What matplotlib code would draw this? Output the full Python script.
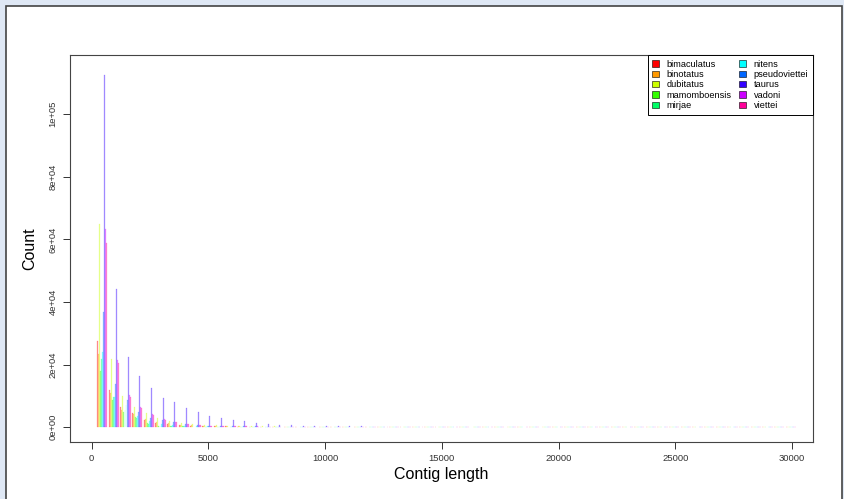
import numpy as np
import matplotlib.pyplot as plt
from matplotlib.patches import Patch, Rectangle

plt.rcParams['font.family'] = ['Liberation Sans', 'DejaVu Sans']

# contig length histogram, bins of 500 bp
bin_width = 500
n_bins = 60

species = ['bimaculatus', 'binotatus', 'dubitatus', 'mamomboensis', 'mirjae',
           'nitens', 'pseudoviettei', 'taurus', 'vadoni', 'viettei']
colors = ['#FF0000', '#FF9900', '#CCFF00', '#33FF00', '#00FF66',
          '#00FFFF', '#0066FF', '#3300FF', '#CC00FF', '#FF0099']

bimaculatus = [27600, 11800, 6400, 4500, 2400, 1400, 1000, 600, 450, 350, 280, 220, 180, 150, 120,
               100, 90, 80, 70, 60, 55, 50, 45, 40, 35, 30, 28, 25, 22, 20,
               18, 16, 15, 14, 12, 11, 10, 9, 8, 8, 7, 7, 6, 6, 5,
               5, 5, 4, 4, 4, 3, 3, 3, 3, 2, 2, 2, 2, 2, 2]
binotatus = [23300, 10800, 5400, 4200, 2600, 1600, 1300, 800, 600, 450, 350, 280, 220, 180, 150,
             120, 100, 90, 80, 70, 60, 55, 50, 45, 40, 35, 30, 28, 25, 22,
             20, 18, 16, 15, 14, 12, 11, 10, 9, 8, 8, 7, 7, 6, 6,
             5, 5, 5, 4, 4, 4, 3, 3, 3, 3, 2, 2, 2, 2, 2]
dubitatus = [64900, 21700, 9900, 6400, 4500, 3000, 2000, 1300, 900, 700, 550, 450, 380, 320, 260,
             220, 190, 160, 140, 120, 100, 90, 80, 70, 60, 55, 50, 45, 40, 35,
             30, 28, 25, 22, 20, 18, 16, 15, 14, 12, 11, 10, 9, 8, 8,
             7, 7, 6, 6, 5, 5, 5, 4, 4, 4, 3, 3, 3, 3, 2]
mamomboensis = [17900, 8600, 4800, 3200, 1300, 500, 300, 200, 150, 120, 100, 80, 65, 55, 45,
                40, 35, 30, 26, 22, 20, 18, 16, 14, 12, 11, 10, 9, 8, 7,
                7, 6, 6, 5, 5, 4, 4, 4, 3, 3, 3, 3, 2, 2, 2,
                2, 2, 2, 1, 1, 1, 1, 1, 1, 1, 1, 1, 1, 1, 1]
mirjae = [21700, 9600, 5400, 2900, 1000, 500, 300, 200, 150, 120, 100, 80, 65, 55, 45,
          40, 35, 30, 26, 22, 20, 18, 16, 14, 12, 11, 10, 9, 8, 7,
          7, 6, 6, 5, 5, 4, 4, 4, 3, 3, 3, 3, 2, 2, 2,
          2, 2, 2, 1, 1, 1, 1, 1, 1, 1, 1, 1, 1, 1, 1]
nitens = [24000, 9600, 7000, 3500, 1900, 1000, 600, 400, 300, 220, 180, 140, 110, 90, 75,
          65, 55, 48, 42, 36, 32, 28, 25, 22, 20, 18, 16, 14, 12, 11,
          10, 9, 8, 7, 7, 6, 6, 5, 5, 4, 4, 4, 3, 3, 3,
          3, 2, 2, 2, 2, 2, 2, 1, 1, 1, 1, 1, 1, 1, 1]
pseudoviettei = [36700, 13700, 8600, 4800, 2900, 2200, 1500, 1000, 700, 500, 400, 320, 260, 210, 170,
                 140, 120, 100, 85, 75, 65, 58, 50, 45, 40, 35, 32, 28, 25, 22,
                 20, 18, 16, 15, 14, 12, 11, 10, 9, 8, 8, 7, 7, 6, 6,
                 5, 5, 5, 4, 4, 4, 3, 3, 3, 3, 2, 2, 2, 2, 2]
taurus = [112400, 44100, 22400, 16300, 12500, 9400, 7900, 6100, 4800, 3500, 2900, 2200, 1900, 1400, 1000,
          700, 550, 450, 380, 320, 280, 240, 200, 170, 150, 130, 110, 100, 90, 80,
          70, 60, 55, 50, 45, 40, 35, 30, 30, 25, 25, 20, 20, 18, 16,
          15, 14, 12, 11, 10, 10, 9, 8, 8, 7, 6, 6, 5, 5, 4]
vadoni = [63200, 21400, 10200, 6400, 4200, 2500, 1600, 1100, 700, 500, 400, 320, 260, 210, 170,
          140, 120, 100, 85, 75, 65, 58, 50, 45, 40, 35, 32, 28, 25, 22,
          20, 18, 16, 15, 14, 12, 11, 10, 9, 8, 8, 7, 7, 6, 6,
          5, 5, 5, 4, 4, 4, 3, 3, 3, 3, 2, 2, 2, 2, 2]
viettei = [58800, 20400, 9600, 6100, 3800, 2300, 1500, 1000, 600, 450, 350, 280, 230, 190, 150,
           125, 105, 90, 78, 68, 60, 52, 46, 40, 36, 32, 28, 25, 22, 20,
           18, 16, 15, 14, 12, 11, 10, 9, 8, 8, 7, 7, 6, 6, 5,
           5, 5, 4, 4, 4, 3, 3, 3, 3, 2, 2, 2, 2, 2, 2]

counts = [bimaculatus, binotatus, dubitatus, mamomboensis, mirjae,
          nitens, pseudoviettei, taurus, vadoni, viettei]

fig = plt.figure(figsize=(8.45, 4.99), dpi=100)
fig.patch.set_facecolor('#dfe8f5')
# white page with a dark frame
fig.add_artist(Rectangle((6 / 845, -0.01), 836 / 845, (499 - 6) / 499 + 0.01,
                         transform=fig.transFigure, facecolor='white',
                         edgecolor='#444444', linewidth=1.2, zorder=0))

ax = fig.add_axes([70 / 845, 1 - 441.5 / 499, 743 / 845, 386.5 / 499])
ax.set_facecolor('white')

bin_start = np.arange(n_bins) * bin_width
offset = 45
for j, (name, col) in enumerate(zip(species, colors)):
    xs = bin_start + 250 + j * offset
    ax.bar(xs, counts[j], width=40, color=col, alpha=0.38,
           edgecolor=col, linewidth=0.25, align='center')

ax.set_xlim(-925, 30900)
ax.set_ylim(-4600, 118900)

ax.set_xticks(np.arange(0, 30001, 5000))
ax.set_xticklabels([str(v) for v in range(0, 30001, 5000)], fontsize=6.8)
yt = np.arange(0, 100001, 20000)
ax.set_yticks(yt)
ax.set_yticklabels(['0e+00', '2e+04', '4e+04', '6e+04', '8e+04', '1e+05'],
                   fontsize=6.8, rotation=90, va='center')
ax.tick_params(length=5, width=0.7, colors='#333333', pad=4)
for sp in ax.spines.values():
    sp.set_linewidth(0.8)
    sp.set_color('#444444')

ax.set_xlabel('Contig length', fontsize=11.5, labelpad=3)
ax.set_ylabel('Count', fontsize=11.5, labelpad=8)

handles = [Patch(facecolor=c, edgecolor='black', linewidth=0.4) for c in colors]
leg = ax.legend(handles, species, ncol=2, loc='upper right', borderaxespad=0,
                fontsize=6.6, fancybox=False, edgecolor='black', framealpha=1,
                handlelength=0.7, handleheight=0.7, handletextpad=0.9,
                labelspacing=0.15, columnspacing=0.8, borderpad=0.5)
leg.get_frame().set_linewidth(0.7)

plt.savefig('out.png', dpi=100, facecolor=fig.get_facecolor())
